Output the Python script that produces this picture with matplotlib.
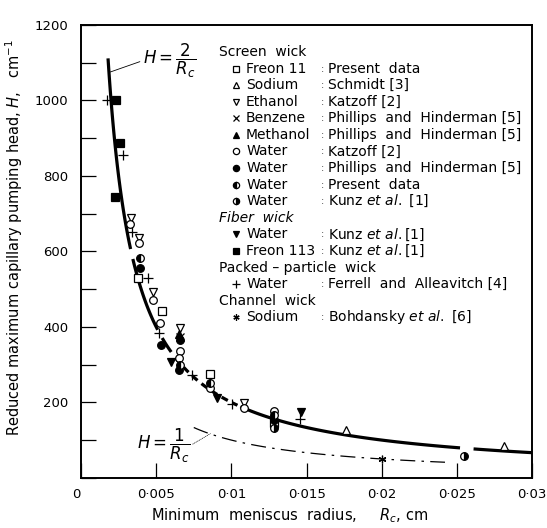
import numpy as np
import matplotlib.pyplot as plt

plt.rcParams['font.family'] = ['DejaVu Sans']
plt.rcParams['mathtext.fontset'] = 'dejavusans'

# --- data (Rc in cm, H in cm^-1) ---
freon11_rc = [0.00382, 0.00538, 0.00855, 0.01282]
freon11_h = [529, 443, 275, 146]

sodium_rc = [0.0176, 0.0281]
sodium_h = [127, 84]

ethanol_rc = [0.00331, 0.00389, 0.00482, 0.0066, 0.01082]
ethanol_h = [688, 635, 491, 397, 198]

benzene_rc = [0.0066]
benzene_h = [372]

methanol_rc = [0.00655]
methanol_h = [381]

water_katzoff_rc = [0.00327, 0.00389, 0.00482, 0.00527, 0.0066, 0.00655, 0.00855, 0.01082, 0.01282]
water_katzoff_h = [673, 622, 472, 410, 335, 317, 238, 185, 177]

water_phillips_rc = [0.00393, 0.00531, 0.0066, 0.00655, 0.01282]
water_phillips_h = [555, 352, 366, 286, 154]

water_present_rc = [0.00393, 0.0066, 0.00855, 0.01282]
water_present_h = [583, 299, 251, 167]

water_kunz_rc = [0.01282, 0.02549]
water_kunz_h = [132, 58]

fiber_water_rc = [0.00598, 0.00904, 0.0146]
fiber_water_h = [308, 211, 174]

freon113_rc = [0.00231, 0.0026, 0.00227]
freon113_h = [1001, 888, 745]

packed_water_rc = [0.00173, 0.00278, 0.00338, 0.00449, 0.00522, 0.00738, 0.01005, 0.01455]
packed_water_h = [1001, 856, 652, 529, 384, 273, 196, 155]

channel_sodium_rc = [0.02004]
channel_sodium_h = [50]

# pieces of the H = 2/Rc curve that are drawn solid / dashed
solid_pieces = [(0.0018, 0.0033), (0.00345, 0.0051), (0.0054, 0.0060),
                (0.0106, 0.0252), (0.0261, 0.030)]
dashed_pieces = [(0.0063, 0.0104)]
inv_range = (0.0075, 0.0242)

xticks = [0, 0.005, 0.01, 0.015, 0.02, 0.025, 0.03]
xticklabels = ['0', '0·005', '0·01', '0·015', '0·02', '0·025', '0·03']
yticks = [0, 200, 400, 600, 800, 1000, 1200]
yticklabels = ['', '200', '400', '600', '800', '1000', '1200']

fig = plt.figure(figsize=(5.47, 5.28), dpi=100)
ax = fig.add_axes([0.148, 0.095, 0.825, 0.858])

# curves
for a, b in solid_pieces:
    rc = np.linspace(a, b, 60)
    ax.plot(rc, 2 / rc, color='black', lw=2.3, solid_capstyle='butt', zorder=2)
for a, b in dashed_pieces:
    rc = np.linspace(a, b, 60)
    ax.plot(rc, 2 / rc, color='black', lw=2.3, linestyle=(0, (2.2, 1.6)), zorder=2)
rc = np.linspace(inv_range[0], inv_range[1], 80)
ax.plot(rc, 1 / rc, color='black', lw=0.9, linestyle=(0, (12, 5, 2, 5)), zorder=2)

# series: (rc, h, marker style, material, source)
ms = 5.5
open_kw = dict(mfc='white', mec='black', mew=0.9)
fill_kw = dict(mfc='black', mec='black', mew=0.9)
series = [
    ('Screen  wick', None, None, None, None),
    (freon11_rc, freon11_h, dict(marker='s', **open_kw), 'Freon 11', 'Present  data'),
    (sodium_rc, sodium_h, dict(marker='^', **open_kw), 'Sodium', 'Schmidt [3]'),
    (ethanol_rc, ethanol_h, dict(marker='v', **open_kw), 'Ethanol', 'Katzoff [2]'),
    (benzene_rc, benzene_h, dict(marker='x', mec='black', mew=0.9), 'Benzene', 'Phillips  and  Hinderman [5]'),
    (methanol_rc, methanol_h, dict(marker='^', **fill_kw), 'Methanol', 'Phillips  and  Hinderman [5]'),
    (water_katzoff_rc, water_katzoff_h, dict(marker='o', **open_kw), 'Water', 'Katzoff [2]'),
    (water_phillips_rc, water_phillips_h, dict(marker='o', **fill_kw), 'Water', 'Phillips  and  Hinderman [5]'),
    (water_present_rc, water_present_h, dict(marker='o', fillstyle='left', mfc='black', mfcalt='white', mec='black', mew=0.9), 'Water', 'Present  data'),
    (water_kunz_rc, water_kunz_h, dict(marker='o', fillstyle='right', mfc='black', mfcalt='white', mec='black', mew=0.9), 'Water', r'Kunz $\mathit{et\ al.}$ [1]'),
    ('Fiber  wick', None, None, None, None),
    (fiber_water_rc, fiber_water_h, dict(marker='v', **fill_kw), 'Water', r'Kunz $\mathit{et\ al.}$[1]'),
    (freon113_rc, freon113_h, dict(marker='s', **fill_kw), 'Freon 113', r'Kunz $\mathit{et\ al.}$[1]'),
    ('Packed – particle  wick', None, None, None, None),
    (packed_water_rc, packed_water_h, dict(marker='+', mec='black', mew=0.9, ms_scale=1.4), 'Water', 'Ferrell  and  Alleavitch [4]'),
    ('Channel  wick', None, None, None, None),
    (channel_sodium_rc, channel_sodium_h, dict(marker=(6, 2, 0), mec='black', mew=0.9), 'Sodium', r'Bohdansky $\mathit{et\ al.}$ [6]'),
]

# legend layout in axes fraction
x_head, x_mark, x_mat, x_colon, x_src = 0.306, 0.344, 0.366, 0.532, 0.547
y0, dy = 0.940, 0.0366
fs = 10

for i, row in enumerate(series):
    y = y0 - i * dy
    if row[1] is None:
        ax.text(x_head, y, row[0], transform=ax.transAxes, fontsize=fs,
                va='center', ha='left', style='italic' if 'Fiber' in row[0] else 'normal')
        continue
    rcs, hs, style, material, source = row
    style = dict(style)
    scale = style.pop('ms_scale', 1.0)
    ax.plot(rcs, hs, linestyle='none', ms=ms * scale, zorder=3, **style)
    ax.plot([x_mark], [y], linestyle='none', ms=4.5 * scale, transform=ax.transAxes,
            clip_on=False, zorder=3, **style)
    ax.text(x_mat, y, material, transform=ax.transAxes, fontsize=fs, va='center', ha='left')
    ax.text(x_colon, y, ':', transform=ax.transAxes, fontsize=fs - 3, va='center', ha='left', color='#444444')
    ax.text(x_src, y, source, transform=ax.transAxes, fontsize=fs, va='center', ha='left')

# curve labels
ax.annotate(r'$H=\dfrac{2}{R_c}$', xy=(0.00195, 1075), xytext=(0.0041, 1105),
            fontsize=12, va='center', ha='left',
            arrowprops=dict(arrowstyle='-', lw=0.6, color='black', shrinkA=0, shrinkB=0,
                            relpos=(0, 0.5)))
ax.annotate(r'$H=\dfrac{1}{R_c}$', xy=(0.0086, 117), xytext=(0.0037, 85),
            fontsize=12, va='center', ha='left',
            arrowprops=dict(arrowstyle='-', lw=0.5, color='black', linestyle=':',
                            shrinkA=0, shrinkB=0, relpos=(1, 0.5)))

ax.set_xlim(0, 0.03)
ax.set_ylim(0, 1200)
ax.set_xticks(xticks)
ax.set_xticklabels(xticklabels, fontsize=9.5)
ax.get_xticklabels()[0].set_ha('right')
ax.set_yticks(yticks)
ax.set_yticklabels(yticklabels, fontsize=9.5)
ax.set_yticks(np.arange(100, 1200, 200), minor=True)
ax.tick_params(which='both', direction='in', length=11, width=0.9, top=False, right=False)
ax.tick_params(axis='x', pad=7)
ax.tick_params(axis='y', pad=9)
for sp in ax.spines.values():
    sp.set_linewidth(1.4)

ax.set_ylabel(r'Reduced maximum capillary pumping head, $H$,   cm$^{-1}$', fontsize=10.5)
ax.yaxis.set_label_coords(-0.125, 0.53)
ax.set_xlabel(r'Minimum  meniscus  radius,     $R_c$, cm', fontsize=10.5)
ax.xaxis.set_label_coords(0.463, -0.062)

fig.savefig('out.png', dpi=100)
